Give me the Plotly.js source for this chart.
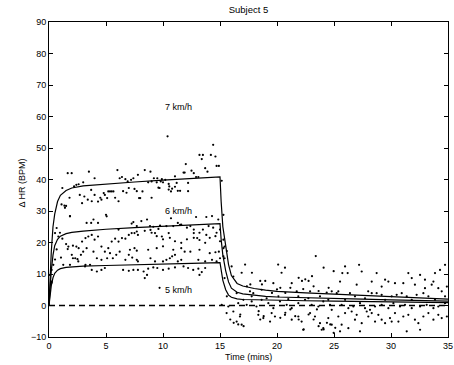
<!DOCTYPE html>
<html>
<head>
<meta charset="utf-8">
<script src="https://cdn.plot.ly/plotly-3.0.1.min.js"></script>
<style>html,body{margin:0;padding:0;background:#fff;}#chart{width:454px;height:365px;}</style>
</head>
<body>
<div id="chart"></div>
<script>
// ---- data ----
const chartTitle = 'Subject 5';
const xTitle = 'Time (mins)';
const yTitle = '\u0394 HR (BPM)';
const xTicks = [0, 5, 10, 15, 20, 25, 30, 35];
const yTicks = [-10, 0, 10, 20, 30, 40, 50, 60, 70, 80, 90];

const speedLabels = ['7 km/h', '6 km/h', '5 km/h'];
const labelX = [10, 10, 10];
const labelY = [63, 30, 5];

// scatter points during exercise [time, dHR]
const walk7Points = [[1.17,37.3],[1.64,42.0],[1.99,42.0],[2.2,37.8],[2.4,38.3],[2.6,38.5],[2.7,35.1],[2.9,32.5],[3.0,39.1],[3.1,34.6],[3.4,33.6],[3.5,42.5],[3.7,36.7],[3.75,33.1],[4.0,40.4],[4.0,35.1],[4.3,33.0],[4.5,34.2],[4.6,33.6],[4.8,35.7],[4.9,35.1],[5.0,28.8],[5.1,34.1],[5.2,36.2],[5.35,36.2],[5.5,36.2],[5.65,36.2],[5.8,34.2],[6.0,43],[6.1,33.1],[6.2,40.4],[6.4,40.8],[6.5,36.3],[6.7,40.1],[6.8,35.8],[6.9,39.4],[7.0,37.3],[7.2,39.9],[7.4,40.4],[7.5,37.0],[7.7,36.3],[7.8,41.5],[7.9,34.1],[8.0,34.1],[8.2,36.2],[8.4,43],[8.7,39.1],[8.9,42.5],[9.0,39.4],[9.0,34.2],[9.2,40.4],[9.45,39.1],[9.5,40.4],[9.6,37.4],[9.7,37.3],[9.8,39.4],[9.9,40.1],[10.0,39.1],[10.2,39.9],[10.4,53.7],[10.5,38.6],[10.5,36.8],[10.55,37.8],[10.7,36.2],[10.8,37.1],[11.05,41],[11.05,37.7],[11.2,38.9],[11.3,36.4],[11.5,36.4],[11.8,42.2],[11.9,42.2],[12.0,44.9],[12.2,38.9],[12.2,36.3],[12.5,42.8],[12.7,42.0],[12.9,40.8],[13.1,40.8],[13.2,47.8],[13.4,46.5],[13.5,47.8],[13.7,43.6],[13.9,42.5],[14.2,47.8],[14.4,51],[14.6,47.3],[14.7,44.3],[14.9,44.3],[15.15,39.6],[1.8,34.2],[1.1,32.1],[1.5,31.6],[1.4,31],[1.35,31.7],[1.84,28.4]];
const walk6Points = [[1.84,28.3],[3.3,26.2],[3.7,26.2],[4.3,26.2],[5.06,28.3],[7.4,26.5],[0.67,24.6],[0.53,23],[0.82,21.9],[1.17,21.2],[1.5,19.5],[1.7,18.7],[1.64,17.9],[2.1,19.0],[2.4,18.7],[2.6,18.2],[3.0,17.1],[2.9,20.3],[3.2,21.4],[3.45,21.9],[3.75,22.4],[4.0,20.9],[4.3,21.9],[3.3,18.2],[3.9,17.1],[4.6,18.7],[4.9,17.1],[5.2,18.2],[5.5,20.3],[5.8,21.2],[6.1,20.3],[6.4,21.4],[6.7,21.2],[7.0,22.4],[7.25,23],[7.5,23],[7.8,22.4],[7.1,17.7],[7.5,18.2],[6.2,17.1],[3.9,27.3],[6.1,24.1],[7.25,26],[7.7,25.2],[8.1,26.8],[8.6,27.3],[8.86,25.2],[9.15,25.0],[9.74,25.4],[10.3,25.2],[10.9,25.2],[11.3,26.2],[11.6,25.7],[12.1,24.7],[12.4,25.2],[12.7,24.1],[13.2,23.1],[13.5,24.1],[14.0,25.2],[14.4,24.7],[14.7,23.1],[15.0,24.1],[10.7,27.7],[12.9,28.1],[13.8,28.1],[14.3,28.4],[14.85,27.3],[15.3,28.8],[9.0,23.1],[9.45,22.0],[10.0,21.0],[10.6,21.5],[11.05,20.4],[11.6,19.9],[12.1,21.0],[12.7,21.5],[13.2,20.8],[13.7,19.9],[14.1,21.5],[14.6,22.0],[15.0,20.4],[10.0,18.8],[10.9,17.7],[11.6,18.2],[12.4,17.1],[13.2,17.7],[14.1,16.6],[14.9,17.1],[7.7,23.5],[8.4,23.7],[8.9,24.0],[9.3,23.0],[9.6,24.3],[9.9,21.9],[10.5,23.0],[11.5,25.6],[12.7,23.0],[13.0,21.4],[13.8,22.4],[7.7,17.4],[8.7,17.7],[9.45,18.2],[11.9,17.1],[14.6,16.9],[15.3,18.2],[15.3,20.9],[15.4,18.7]];
const walk5Points = [[2.0,16.1],[2.1,15.0],[2.3,15.0],[2.5,14.7],[1.05,15.2],[2.8,16.1],[4.2,15.0],[3.2,12.9],[3.6,12.9],[4.6,14.5],[5.1,15.0],[5.35,16.6],[5.6,15.0],[5.9,16.1],[6.7,14.5],[7.0,16.1],[7.3,15.2],[7.8,14.0],[4.6,11.3],[4.9,11.9],[6.5,11.3],[7.0,11.0],[7.4,11.3],[0.38,12.9],[1.25,12.9],[1.84,12.9],[2.57,14.0],[3.16,12.4],[3.75,11.3],[4.2,10.8],[0.23,11.3],[0.09,9.7],[0.24,7.6],[0.09,4.6],[0.23,7.2],[0.53,14.6],[0.67,17.8],[0.96,23.1],[7.7,14.5],[8.9,15.0],[9.3,14.0],[10.0,14.0],[10.3,14.5],[10.6,15.0],[11.3,14.0],[11.6,14.5],[13.1,14.5],[13.7,14.0],[14.3,14.5],[14.7,14.0],[15.0,15.0],[15.3,15.6],[10.8,15.6],[11.05,16.1],[7.8,11.3],[8.3,10.8],[8.7,11.7],[9.15,12.1],[9.5,11.9],[10.0,11.3],[10.5,11.7],[11.05,12.1],[11.8,12.4],[12.2,11.9],[12.65,11.3],[13.1,11.7],[13.4,10.6],[13.7,11.9],[8.6,9.7],[8.4,8.7],[13.2,9.7],[9.7,5.6],[15.4,15.0],[15.4,8.7],[15.6,2.9]];

// scatter points during recovery [time, dHR]
const recoveryPoints = [[23.4,15.7],[20.1,13],[20.4,10.4],[20.7,12],[16.9,10.4],[17.2,13],[17.8,10.4],[15.6,17.3],[16.17,9.2],[16.02,12.4],
[17.36,6.1],[17.66,6.7],[18.53,7.8],[18.68,6.7],[18.97,7.8],[19.56,4.0],[20.0,5.1],[20.29,5.6],[20.73,4.0],[21.17,5.6],[21.9,8.8],[22.19,7.8],[22.48,8.3],[22.77,7.8],[23.07,9.3],[23.21,6.1],[23.65,4.6],[24.09,12.0],[24.53,5.6],[24.97,10.9],
[17.63,4.5],[17.92,3.9],[18.65,5.0],[19.68,7.1],[21.29,7.1],[21.73,4.5],[22.3,5.2],[22.9,4.5],[24.36,4.1],[24.8,4.5],
[16.46,3.9],[17.78,2.9],[19.09,2.3],[20.12,2.9],[20.99,2.0],[21.87,2.9],[22.75,2.3],[23.77,2.9],[24.5,1.8],
[15.15,0.22],[15.73,-0.31],[16.6,0.75],[17.05,1.81],[17.34,0.22],[17.78,1.28],[18.2,-0.31],[18.65,1.81],[19.24,0.75],[19.68,-0.84],[20.26,1.28],[20.85,0.22],[21.29,-0.84],[21.87,0.75],[22.46,1.81],[23.04,0.22],[23.63,-0.31],[24.06,1.28],[24.65,0.22],[24.8,-1.37],
[15.58,-2.4],[16.17,-1.9],[16.75,-3.5],[16.46,-5.1],[16.9,-6.1],[18.36,-2.95],[18.8,-4.0],[19.53,-2.4],[19.82,-3.5],[19.39,-5.1],[20.7,-2.95],[21.29,-4.5],[21.87,-3.5],[22.16,-5.1],[22.9,-2.4],[23.33,-3.5],[23.77,-5.6],[24.06,-7.2],[24.5,-4.0],[24.8,-6.1],[22.3,-7.7],[23.92,-7.7],
[15.9,-4.44],[16.2,-5.5],[16.6,-6.02],[17.07,-6.55],[16.78,-2.85],[18.39,-1.79],[18.83,-3.38],[18.53,-4.44],[20.29,-3.9],[20.73,-2.3],[21.17,-1.26],[21.6,-3.38],[21.9,-4.44],[22.34,-7.6],[22.77,-2.85],[23.21,-4.44],[23.5,-1.26],[23.65,-6.55],[24.09,-7.6],[24.38,-5.5],[24.67,-6.02],[24.97,-8.67],[25.11,-7.08],
[25.97,12.4],[26.2,10.3],[27.2,12.9],[25.73,10.3],[28.74,10.3],[27.43,10.8],[31.52,10.3],[31.82,8.7],[32.55,9.7],[32.98,8.2],[33.72,7.6],[33.86,10.3],[34.3,11.3],[34.74,12.9],[29.48,8.2],[29.77,7.6],[29.18,6.0],[30.35,7.1],[31.08,7.1],[32.1,6.6],[28.31,7.6],[25.53,7.6],[25.38,4.5],[26.99,6.6],[26.4,3.9],[28.0,4.5],[28.31,3.9],[28.74,3.9],[29.18,3.4],[30.5,3.4],[30.94,3.9],[31.38,2.9],[32.25,3.4],[32.84,3.9],[32.98,5.5],[33.57,6.6],[34.15,5.5],[34.45,4.5],[34.9,6.0],
[25.24,3.9],[25.97,1.8],[26.84,2.9],[27.72,2.3],[29.48,1.8],[30.06,2.9],[31.82,1.8],[33.28,2.9],[33.86,1.8],[34.74,2.9],
[25.67,0.22],[26.26,-0.84],[26.7,-0.31],[27.28,0.75],[27.72,-0.84],[28.16,-1.37],[28.6,-0.31],[29.18,0.22],[29.77,-0.84],[30.21,0.75],[30.79,-0.31],[31.23,0.22],[31.82,-0.84],[32.55,-0.31],[33.13,0.22],[33.72,-0.84],[34.15,-0.31],[34.74,0.75],
[25.38,-3.5],[25.97,-2.4],[26.55,-1.9],[26.99,-2.95],[26.84,-4.5],[27.43,-5.6],[28.01,-3.5],[28.31,-2.4],[27.87,-1.9],[28.6,-5.1],[29.18,-4.5],[28.89,-2.95],[29.48,-5.6],[29.91,-4.0],[30.35,-2.4],[30.65,-5.1],[31.08,-3.5],[31.52,-2.95],[32.1,-4.5],[32.4,-5.6],[32.84,-3.5],[33.28,-2.4],[33.72,-4.5],[34.15,-2.95],[34.45,-4.0],[34.9,-3.5],[25.67,-6.1],[26.26,-7.2],[25.53,-8.2],[27.28,-8.2],[31.38,-8.2],[32.55,-7.7],[30.06,-5.1]];

// fitted response curves
const fitTime = [0,0.1,0.2,0.35,0.5,0.75,1,1.5,2,3,5,7.5,10,12.5,15,15.1,15.25,15.5,15.75,16,16.5,17,18,19,20,22.5,25,27.5,30,32.5,35];
const fit7 = [0,9,17,25,29,33,35,36.5,37.3,38,38.6,39.2,39.8,40.3,40.8,33,25,19,13,9.5,7,6.2,5.4,4.9,4.5,4.0,3.6,3.2,2.8,2.4,2.0];
const fit6 = [0,6,11,16,19,21,22,22.8,23.2,23.6,24.2,24.7,25.1,25.5,26,21,16,11,7.5,5.5,4.2,3.7,3.2,2.9,2.7,2.4,2.2,2.0,1.8,1.6,1.4];
const fit5 = [0,3.5,6.3,8.8,10.2,11.2,11.7,12.1,12.3,12.5,12.7,13,13.2,13.4,13.6,11,8,5,3.3,2.6,2.1,1.9,1.8,1.7,1.6,1.5,1.4,1.3,1.1,1.0,0.9];

const baselineX = [0, 35];
const baselineY = [0, 0];

// ---- build traces ----
const allPoints = walk7Points.concat(walk6Points, walk5Points, recoveryPoints);
const traces = [
  {x: allPoints.map(p => p[0]), y: allPoints.map(p => p[1]), type: 'scatter', mode: 'markers',
   marker: {color: '#000', size: 2.2}, hoverinfo: 'skip'},
  {x: fitTime, y: fit7, type: 'scatter', mode: 'lines', line: {color: '#000', width: 1.2}},
  {x: fitTime, y: fit6, type: 'scatter', mode: 'lines', line: {color: '#000', width: 1.2}},
  {x: fitTime, y: fit5, type: 'scatter', mode: 'lines', line: {color: '#000', width: 1.2}},
  {x: baselineX, y: baselineY, type: 'scatter', mode: 'lines', line: {color: '#000', width: 1.6, dash: '6px,4px'}}
];

const annotations = speedLabels.map((t, i) => ({
  x: labelX[i], y: labelY[i], xref: 'x', yref: 'y', text: t, showarrow: false,
  xanchor: 'left', yanchor: 'middle', font: {size: 9, color: '#000'}
}));
annotations.push({x: 0.5, y: -0.0635, xref: 'paper', yref: 'paper', text: xTitle, showarrow: false,
  xanchor: 'center', yanchor: 'middle', font: {size: 9, color: '#000'}});
annotations.push({x: -0.068, y: 0.49, xref: 'paper', yref: 'paper', text: yTitle, showarrow: false,
  textangle: -90, xanchor: 'center', yanchor: 'middle', font: {size: 9, color: '#000'}});

const axisCommon = {
  showline: true, linecolor: '#000', linewidth: 1, mirror: 'ticks',
  ticks: 'inside', ticklen: 4, tickwidth: 1, tickcolor: '#000',
  showgrid: false, zeroline: false, fixedrange: true,
  tickfont: {size: 9, color: '#000'}
};

const layout = {
  width: 454, height: 365,
  margin: {l: 49, r: 6, t: 22, b: 28, pad: 0},
  paper_bgcolor: '#fff', plot_bgcolor: '#fff',
  font: {family: 'Liberation Sans, Arial, sans-serif', size: 9, color: '#000'},
  showlegend: false,
  title: {text: chartTitle, font: {size: 9.5, color: '#000'}, x: 0.5, xref: 'paper',
          y: 1 - 10/365, yref: 'container', yanchor: 'middle'},
  xaxis: Object.assign({}, axisCommon, {range: [0, 35], tickvals: xTicks}),
  yaxis: Object.assign({}, axisCommon, {range: [-10, 90], tickvals: yTicks}),
  annotations: annotations
};

Plotly.newPlot('chart', traces, layout, {staticPlot: true, displayModeBar: false});
</script>
</body>
</html>
